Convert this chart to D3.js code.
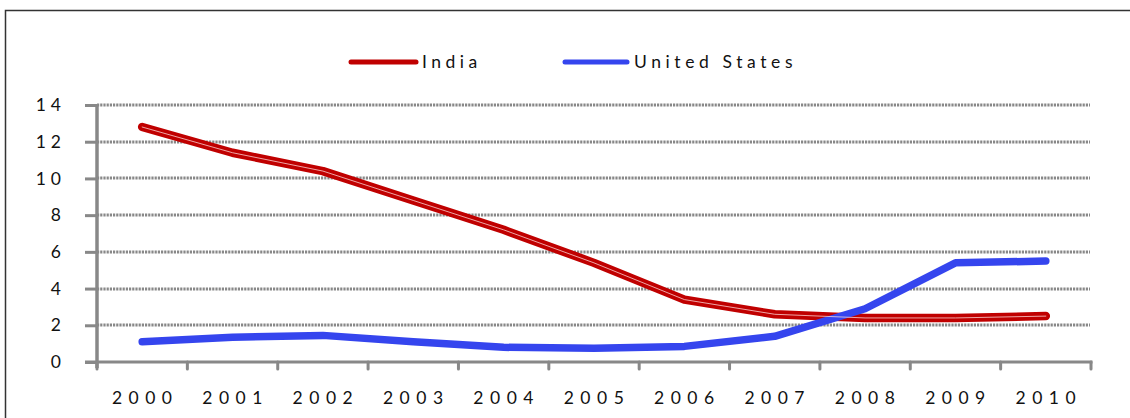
<!DOCTYPE html>
<html>
<head>
<meta charset="utf-8">
<script src="https://cdn.jsdelivr.net/npm/d3@7"></script>
<style>
  html, body { margin: 0; padding: 0; background: #fff; }
  svg { display: block; }
  text { font-family: Lato, "Liberation Sans", sans-serif; fill: #111; }
</style>
</head>
<body>
<svg id="chart" width="1130" height="418"></svg>
<script>
// Year categories along the x axis
const years = ["2000", "2001", "2002", "2003", "2004", "2005", "2006", "2007", "2008", "2009", "2010"];
// Series values
const india = [12.8, 11.4, 10.4, 8.8, 7.2, 5.4, 3.4, 2.6, 2.4, 2.4, 2.5];
const unitedStates = [1.1, 1.35, 1.45, 1.1, 0.8, 0.75, 0.85, 1.4, 2.9, 5.4, 5.5];
// Y-axis tick values
const yTicks = [0, 2, 4, 6, 8, 10, 12, 14];

const series = [
  { name: "India", values: india, color: "#c00000" },
  { name: "United States", values: unitedStates, color: "#3545ee" }
];

const svg = d3.select("#chart");

// Outer chart frame
svg.append("rect")
  .attr("x", 5.5).attr("y", 10.5)
  .attr("width", 1300).attr("height", 600)
  .attr("fill", "none").attr("stroke", "#333").attr("stroke-width", 1.5);

const plot = { left: 97, right: 1091, top: 105, bottom: 362 };

const x = d3.scaleBand().domain(years).range([plot.left, plot.right]);
const y = d3.scaleLinear().domain([0, 14]).range([plot.bottom, plot.top]);

// Dotted horizontal gridlines
svg.append("g")
  .selectAll("line")
  .data(yTicks.filter(t => t > 0))
  .join("line")
  .attr("x1", plot.left).attr("x2", plot.right - 1)
  .attr("y1", d => Math.round(y(d))).attr("y2", d => Math.round(y(d)))
  .attr("stroke", "#888").attr("stroke-width", 3)
  .attr("stroke-dasharray", "2.2,1");

// Y axis
const yAxis = svg.append("g")
  .attr("transform", `translate(${plot.left},0)`)
  .call(d3.axisLeft(y).tickValues(yTicks).tickSize(12).tickPadding(19).tickFormat(d => String(d)));
yAxis.select(".domain").attr("stroke", "#888").attr("stroke-width", 3.5)
  .attr("d", `M0,${plot.top}V${plot.bottom + 6}`);
yAxis.selectAll(".tick line").attr("stroke", "#888").attr("stroke-width", 3);
yAxis.selectAll(".tick text")
  .style("font-size", "17.5px").style("letter-spacing", "5px")
  .attr("fill", "#111");

// X axis with ticks at category boundaries
const xAxisG = svg.append("g").attr("transform", `translate(0,${plot.bottom})`);
xAxisG.append("line")
  .attr("x1", plot.left - 12).attr("x2", plot.right + 1.5)
  .attr("y1", 0).attr("y2", 0)
  .attr("stroke", "#888").attr("stroke-width", 3);
const boundaries = years.map(d => x(d)).concat([x(years[years.length - 1]) + x.bandwidth()]);
xAxisG.selectAll("line.tick")
  .data(boundaries)
  .join("line")
  .attr("class", "tick")
  .attr("x1", d => d).attr("x2", d => d)
  .attr("y1", 0).attr("y2", 7)
  .attr("stroke", "#888").attr("stroke-width", 3)
  .attr("stroke-linecap", "round");
xAxisG.selectAll("text")
  .data(years)
  .join("text")
  .attr("x", d => x(d) + x.bandwidth() / 2 + 3)
  .attr("y", 42)
  .attr("text-anchor", "middle")
  .style("font-size", "17.5px")
  .style("letter-spacing", "6.5px")
  .text(d => d);

// Lines
const line = d3.line()
  .x((d, i) => x(years[i]) + x.bandwidth() / 2)
  .y(d => y(d));

series.forEach(s => {
  svg.append("path")
    .datum(s.values)
    .attr("d", line)
    .attr("fill", "none")
    .attr("stroke", s.color)
    .attr("stroke-width", s.name === "India" ? 8.5 : 7.5)
    .attr("stroke-linecap", "round")
    .attr("stroke-linejoin", "round");
});
// Light highlight along the India line
svg.append("path")
  .datum(india)
  .attr("d", line)
  .attr("fill", "none")
  .attr("stroke", "rgba(255,220,220,0.75)")
  .attr("stroke-width", 1)
  .attr("stroke-linecap", "round");

// Legend
const legend = [
  { s: series[0], x1: 351, x2: 416, tx: 422, ls: "4.5px" },
  { s: series[1], x1: 565, x2: 627, tx: 634, ls: "4.6px" }
];
legend.forEach(l => {
  svg.append("line")
    .attr("x1", l.x1).attr("x2", l.x2)
    .attr("y1", 62).attr("y2", 62)
    .attr("stroke", l.s.color).attr("stroke-width", 5)
    .attr("stroke-linecap", "round");
  svg.append("text")
    .attr("x", l.tx).attr("y", 68)
    .style("font-size", "17.5px")
    .style("letter-spacing", l.ls)
    .text(l.s.name);
});
</script>
</body>
</html>
